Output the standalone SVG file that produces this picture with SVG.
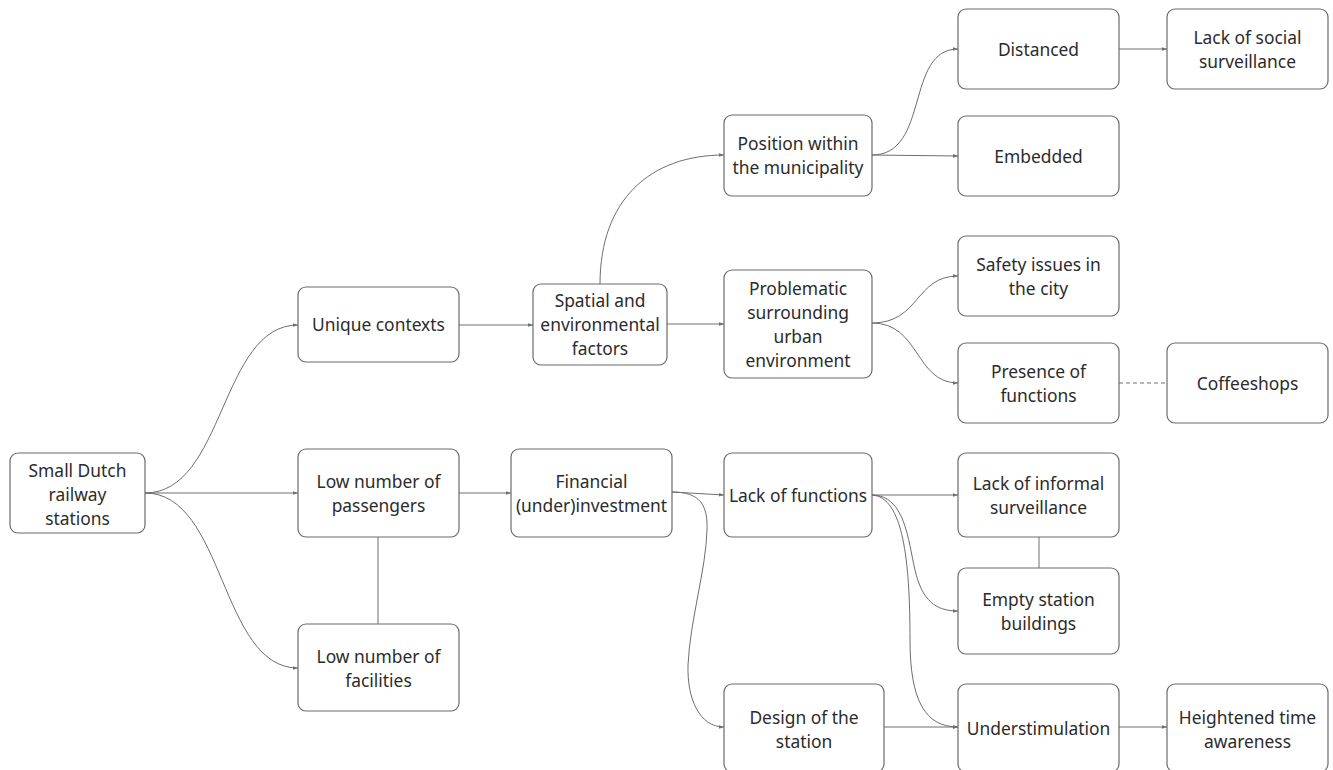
<svg xmlns="http://www.w3.org/2000/svg" width="1333" height="770" viewBox="0 0 1333 770">
  <style>
    .box { fill: #ffffff; stroke: #6b6b6b; stroke-width: 1.2; }
    .lbl { font-family: "Noto Sans", "Open Sans", sans-serif; font-size: 17.4px; fill: #2b2b2b; text-anchor: middle; }
    .edge { fill: none; stroke: #6e6e6e; stroke-width: 1; }
    .arrow { marker-end: url(#tip); }
    .dash { stroke-dasharray: 4 3; }
  </style>
  <defs>
    <marker id="tip" viewBox="0 0 6 6" refX="6" refY="3" markerWidth="5" markerHeight="5" markerUnits="userSpaceOnUse" orient="auto">
      <path d="M0,0.8 L6,3 L0,5.2 Z" fill="#6e6e6e"/>
    </marker>
  </defs>
  <rect width="1333" height="770" fill="#ffffff"/>

  <g id="connectors">
    <path class="edge arrow" d="M145,493 C225,493 220,325 298,325"/>
    <path class="edge arrow" d="M145,493 L298,493"/>
    <path class="edge arrow" d="M145,493 C225,493 220,668 298,668"/>
    <path class="edge" d="M378,537 L378,624"/>
    <path class="edge arrow" d="M459,325 L533,325"/>
    <path class="edge arrow" d="M600,284 C600,200 650,155 724,155"/>
    <path class="edge arrow" d="M667,324 L724,324"/>
    <path class="edge arrow" d="M872,155 C930,155 905,49 958,49"/>
    <path class="edge arrow" d="M872,155 L958,156"/>
    <path class="edge arrow" d="M1119,49 L1167,49"/>
    <path class="edge arrow" d="M872,323 C920,323 915,276 958,276"/>
    <path class="edge arrow" d="M872,323 C920,323 915,383 958,383"/>
    <path class="edge dash" d="M1119,383 L1167,383"/>
    <path class="edge arrow" d="M459,493 L511,493"/>
    <path class="edge arrow" d="M672,492 L724,495"/>
    <path class="edge arrow" d="M672,492 C700,492 708,505 707,530 C706,570 690,620 688,665 C687,700 700,727 724,727"/>
    <path class="edge arrow" d="M872,495 L958,495"/>
    <path class="edge arrow" d="M872,495 C905,495 908,540 915,570 C922,600 935,611 958,611"/>
    <path class="edge arrow" d="M872,495 C903,497 910,560 910,640 C910,700 925,727 958,727"/>
    <path class="edge" d="M1039,537 L1039,568"/>
    <path class="edge arrow" d="M884,727 L958,727"/>
    <path class="edge arrow" d="M1119,727 L1167,727"/>
  </g>

  <g id="n-small-dutch">
    <rect class="box" x="10" y="453" width="135" height="80" rx="8"/>
    <text class="lbl" x="77.5" y="477">Small Dutch</text>
    <text class="lbl" x="77.5" y="501">railway</text>
    <text class="lbl" x="77.5" y="525">stations</text>
  </g>
  <g id="n-unique-contexts">
    <rect class="box" x="298" y="287" width="161" height="75" rx="8"/>
    <text class="lbl" x="378.5" y="331">Unique contexts</text>
  </g>
  <g id="n-low-passengers">
    <rect class="box" x="298" y="449" width="161" height="88" rx="8"/>
    <text class="lbl" x="378.5" y="488">Low number of</text>
    <text class="lbl" x="378.5" y="512">passengers</text>
  </g>
  <g id="n-low-facilities">
    <rect class="box" x="298" y="624" width="161" height="87" rx="8"/>
    <text class="lbl" x="378.5" y="663">Low number of</text>
    <text class="lbl" x="378.5" y="687">facilities</text>
  </g>
  <g id="n-spatial">
    <rect class="box" x="533" y="284" width="134" height="81" rx="8"/>
    <text class="lbl" x="600" y="307">Spatial and</text>
    <text class="lbl" x="600" y="331">environmental</text>
    <text class="lbl" x="600" y="355">factors</text>
  </g>
  <g id="n-financial">
    <rect class="box" x="511" y="449" width="161" height="88" rx="8"/>
    <text class="lbl" x="591.5" y="488">Financial</text>
    <text class="lbl" x="591.5" y="512">(under)investment</text>
  </g>
  <g id="n-position">
    <rect class="box" x="724" y="115" width="148" height="81" rx="8"/>
    <text class="lbl" x="798" y="150">Position within</text>
    <text class="lbl" x="798" y="174">the municipality</text>
  </g>
  <g id="n-problematic">
    <rect class="box" x="724" y="270" width="148" height="108" rx="8"/>
    <text class="lbl" x="798" y="295">Problematic</text>
    <text class="lbl" x="798" y="319">surrounding</text>
    <text class="lbl" x="798" y="343">urban</text>
    <text class="lbl" x="798" y="367">environment</text>
  </g>
  <g id="n-lack-functions">
    <rect class="box" x="724" y="453" width="148" height="84" rx="8"/>
    <text class="lbl" x="798" y="502">Lack of functions</text>
  </g>
  <g id="n-design">
    <rect class="box" x="724" y="684" width="160" height="88" rx="8"/>
    <text class="lbl" x="804" y="724">Design of the</text>
    <text class="lbl" x="804" y="748">station</text>
  </g>
  <g id="n-distanced">
    <rect class="box" x="958" y="9" width="161" height="80" rx="8"/>
    <text class="lbl" x="1038.5" y="56">Distanced</text>
  </g>
  <g id="n-lack-social">
    <rect class="box" x="1167" y="9" width="161" height="80" rx="8"/>
    <text class="lbl" x="1247.5" y="44">Lack of social</text>
    <text class="lbl" x="1247.5" y="68">surveillance</text>
  </g>
  <g id="n-embedded">
    <rect class="box" x="958" y="116" width="161" height="80" rx="8"/>
    <text class="lbl" x="1038.5" y="163">Embedded</text>
  </g>
  <g id="n-safety">
    <rect class="box" x="958" y="236" width="161" height="80" rx="8"/>
    <text class="lbl" x="1038.5" y="271">Safety issues in</text>
    <text class="lbl" x="1038.5" y="295">the city</text>
  </g>
  <g id="n-presence">
    <rect class="box" x="958" y="343" width="161" height="80" rx="8"/>
    <text class="lbl" x="1038.5" y="378">Presence of</text>
    <text class="lbl" x="1038.5" y="402">functions</text>
  </g>
  <g id="n-coffeeshops">
    <rect class="box" x="1167" y="343" width="161" height="80" rx="8"/>
    <text class="lbl" x="1247.5" y="390">Coffeeshops</text>
  </g>
  <g id="n-lack-informal">
    <rect class="box" x="958" y="453" width="161" height="84" rx="8"/>
    <text class="lbl" x="1038.5" y="490">Lack of informal</text>
    <text class="lbl" x="1038.5" y="514">surveillance</text>
  </g>
  <g id="n-empty-buildings">
    <rect class="box" x="958" y="568" width="161" height="86" rx="8"/>
    <text class="lbl" x="1038.5" y="606">Empty station</text>
    <text class="lbl" x="1038.5" y="630">buildings</text>
  </g>
  <g id="n-understimulation">
    <rect class="box" x="958" y="684" width="161" height="88" rx="8"/>
    <text class="lbl" x="1038.5" y="735">Understimulation</text>
  </g>
  <g id="n-heightened">
    <rect class="box" x="1167" y="684" width="161" height="88" rx="8"/>
    <text class="lbl" x="1247.5" y="724">Heightened time</text>
    <text class="lbl" x="1247.5" y="748">awareness</text>
  </g>
</svg>
